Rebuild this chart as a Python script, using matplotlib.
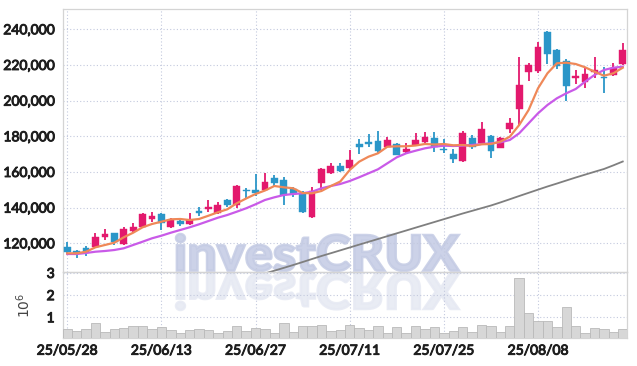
import numpy as np
import matplotlib
matplotlib.use("Agg")
import matplotlib.pyplot as plt
import matplotlib.patheffects as pe
from matplotlib.ticker import FuncFormatter, FixedLocator
from matplotlib.textpath import TextPath
from matplotlib.patches import PathPatch
from matplotlib.font_manager import FontProperties
from matplotlib.transforms import Affine2D

# === DATA ====================================================================
# trading days 25/05/28 .. 25/08/22 (KRX calendar)
dates = [
    "25/05/28", "25/05/29", "25/05/30", "25/06/02", "25/06/04", "25/06/05",
    "25/06/09", "25/06/10", "25/06/11", "25/06/12", "25/06/13", "25/06/16",
    "25/06/17", "25/06/18", "25/06/19", "25/06/20", "25/06/23", "25/06/24",
    "25/06/25", "25/06/26", "25/06/27", "25/06/30", "25/07/01", "25/07/02",
    "25/07/03", "25/07/04", "25/07/07", "25/07/08", "25/07/09", "25/07/10",
    "25/07/11", "25/07/14", "25/07/15", "25/07/16", "25/07/17", "25/07/18",
    "25/07/21", "25/07/22", "25/07/23", "25/07/24", "25/07/25", "25/07/28",
    "25/07/29", "25/07/30", "25/07/31", "25/08/01", "25/08/04", "25/08/05",
    "25/08/06", "25/08/07", "25/08/08", "25/08/11", "25/08/12", "25/08/13",
    "25/08/14", "25/08/18", "25/08/19", "25/08/20", "25/08/21", "25/08/22",
]

open_ = [
    117760, 115850, 117360, 117930, 123700, 125780, 119600, 127070, 129300, 133900,
    136430, 128970, 132620, 130820, 138390, 139230, 136820, 144280, 141200, 149950,
    149950, 150050, 156450, 155490, 150510, 147470, 134840, 153640, 159590, 163340,
    162050, 175680, 176800, 177360, 174170, 175510, 171390, 175290, 176800, 179150,
    172900, 170090, 165880, 179320, 176070, 180160, 173610, 184100, 195140, 216230,
    216790, 238320, 228400, 222230, 212690, 210620, 216060, 213420, 214380, 220380,
]
high = [
    120900, 116240, 118490, 125600, 127850, 125940, 129140, 131210, 137160, 137550,
    137160, 134020, 134350, 137160, 140190, 144280, 143320, 145010, 152690, 150840,
    158920, 159140, 158300, 156900, 151630, 149500, 151570, 162050, 165020, 164860,
    172150, 178310, 181210, 183000, 179880, 176410, 176070, 181990, 182580, 182250,
    178650, 172900, 182980, 180990, 188180, 180720, 179770, 190090, 224300, 220940,
    233050, 239220, 228790, 223180, 217180, 218130, 224300, 219030, 221270, 232490,
]
low = [
    114390, 111590, 113160, 117360, 121680, 119050, 119050, 126500, 128970, 132110,
    127630, 128580, 129530, 130260, 135300, 137720, 136430, 140520, 139620, 144990,
    146420, 149500, 152130, 141480, 145790, 137160, 134020, 149890, 158860, 160150,
    161490, 170090, 174170, 170470, 173840, 169250, 170470, 174390, 176070, 170920,
    170470, 165210, 165760, 172900, 175680, 167840, 173270, 181690, 185780, 211010,
    215330, 220540, 217570, 199970, 209330, 207250, 212520, 204450, 213810, 219980,
]
close = [
    115290, 114560, 115400, 123360, 125210, 120900, 127850, 128970, 136430, 135480,
    131380, 133060, 130820, 133340, 137160, 140520, 141480, 141310, 152130, 149400,
    148440, 154540, 153930, 147080, 147830, 137720, 149600, 161490, 163340, 160700,
    166700, 174170, 175680, 171930, 177920, 169530, 172900, 177920, 179770, 173950,
    172080, 167280, 181690, 174170, 183920, 171930, 178870, 187280, 208770, 219980,
    229910, 225980, 219590, 208380, 213810, 214940, 217180, 212520, 218470, 228400,
]

# moving averages as drawn in the reference
ma_short = [
    114390, 114390, 115290, 117760, 119050, 120340, 123360, 125940, 128970, 130820,
    132110, 133460, 133630, 133060, 133630, 135480, 137380, 139060, 142430, 145120,
    147640, 149600, 152130, 151400, 150840, 148200, 148040, 149330, 152130, 154650,
    161100, 165750, 168560, 170460, 174160, 174390, 174390, 174840, 175680, 175400,
    175680, 174950, 175120, 174560, 175510, 175680, 176970, 179770, 186330, 194740,
    206910, 215320, 220930, 221260, 220530, 218680, 216220, 213970, 215320, 218460,
]
ma_mid = [
    114000, 114000, 114560, 115290, 115680, 116240, 117200, 119050, 120900, 122800,
    124260, 125940, 127460, 128970, 130650, 132500, 134350, 135870, 137720, 139630,
    141870, 144280, 145790, 147080, 147640, 148040, 148930, 150840, 152130, 153250,
    154930, 157010, 159250, 161490, 164860, 168220, 170460, 171920, 173270, 174160,
    174730, 174560, 174730, 175120, 175680, 176070, 176630, 177920, 181680, 187280,
    192890, 197540, 201300, 204100, 206520, 210610, 214370, 217170, 218460, 219020,
]
nan = np.nan
ma_long = [
    nan, nan, nan, nan, nan, nan, nan, nan, nan, nan,
    nan, nan, nan, nan, nan, nan, nan, nan, nan, nan,
    101500, 103070, 104650, 106230, 107830, 109500, 111200, 112880, 114450, 116050,
    117650, 119250, 120830, 122410, 124000, 125600, 127180, 128780, 130360, 131940,
    133530, 135120, 136710, 138200, 139700, 141190, 142900, 144700, 146520, 148300,
    150080, 151850, 153500, 155200, 156890, 158500, 160100, 161660, 163700, 165860,
]

# volume, millions of shares
volume = [
    0.49, 0.37, 0.47, 0.74, 0.34, 0.46, 0.50, 0.59, 0.59, 0.46,
    0.55, 0.43, 0.28, 0.43, 0.47, 0.43, 0.28, 0.40, 0.59, 0.40,
    0.52, 0.46, 0.29, 0.74, 0.34, 0.59, 0.59, 0.64, 0.40, 0.44,
    0.67, 0.50, 0.41, 0.59, 0.28, 0.55, 0.29, 0.59, 0.47, 0.55,
    0.28, 0.37, 0.55, 0.34, 0.64, 0.59, 0.34, 0.59, 2.76, 1.19,
    0.82, 0.82, 0.55, 1.45, 0.59, 0.29, 0.50, 0.46, 0.34, 0.46,
]

price_ticks = [120000, 140000, 160000, 180000, 200000, 220000, 240000]
vol_ticks = [1, 2, 3]
date_tick_idx = [0, 10, 20, 30, 40, 50]

# === STYLE ===================================================================
UP = "#e3196d"
DOWN = "#2b96c8"
GRID = "#c3c9de"
SPINE = "#d4d4d4"
TXT = "#1e1e1e"
plt.rcParams["font.family"] = ["Lato", "DejaVu Sans"]

W, H = 637, 366
fig = plt.figure(figsize=(W / 100, H / 100), dpi=100)
fig.patch.set_facecolor("white")

ax = fig.add_axes([63 / W, (H - 272) / H, 564 / W, 263 / H])
axv = fig.add_axes([63 / W, (H - 337.7) / H, 564 / W, 65.4 / H], sharex=ax)

x = np.arange(len(dates))
o = np.array(open_)
c = np.array(close)
up = c >= o
colors = np.where(up, UP, DOWN)

# ---------------- candles ----------------
ax.vlines(x, low, high, colors=colors, linewidth=1.3, zorder=3)
body_bottom = np.minimum(o, c)
body_height = np.abs(c - o)
ax.bar(x, body_height, bottom=body_bottom, width=0.72, color=colors,
       edgecolor=colors, linewidth=0.3, zorder=4)

# ---------------- moving averages ----------------
ax.plot(x, ma_long, color="#7f7f7f", linewidth=1.3, zorder=5)
ax.plot(x, ma_mid, color="#c95ae8", linewidth=1.6, zorder=5)
ax.plot(x, ma_short, color="#ef8858", linewidth=1.6, zorder=6)

ax.set_xlim(-0.45, 59.45)
ax.set_ylim(103910, 251370)
ax.yaxis.set_major_locator(FixedLocator(price_ticks))
ax.yaxis.set_major_formatter(FuncFormatter(lambda v, p: f"{int(v):,}"))

# ---------------- volume ----------------
axv.bar(x, volume, width=1.0, color="#d7d7d7", edgecolor="#b9b9b9",
        linewidth=0.6, zorder=3)
axv.set_ylim(0.08, 3.03)
axv.yaxis.set_major_locator(FixedLocator(vol_ticks))
axv.set_ylabel(r"$10^6$", fontsize=10, color="#444444", labelpad=10,
               family="DejaVu Sans")

axv.xaxis.set_major_locator(FixedLocator(date_tick_idx))
axv.set_xticklabels([dates[i] for i in date_tick_idx])

for a in (ax, axv):
    a.set_facecolor("none")
    a.grid(True, linestyle=(0, (1, 2)), color=GRID, linewidth=0.8, zorder=0)
    a.set_axisbelow(True)
    for s in a.spines.values():
        s.set_color(SPINE)
        s.set_linewidth(0.9)
    a.tick_params(length=0, labelsize=10, labelcolor=TXT, pad=6)
ax.tick_params(labelbottom=False)
axv.tick_params(axis="x", pad=5)

# ---------------- watermark + reflection ----------------
fp = FontProperties(family="Lato", weight="black")
tp = TextPath((0, 0), "investCRUX", size=10, prop=fp)
ext = tp.get_extents()
bx0, bx1, btop, bbase = 176, 459, 234, 271
sx = (bx1 - bx0) / ext.width
sy = (bbase - btop) / ext.height
to_fig = Affine2D().scale(1 / W, 1 / H) + fig.transFigure

main_tr = Affine2D().translate(-ext.x0, -ext.y0).scale(sx, sy).translate(bx0, H - bbase)
refl_tr = Affine2D().translate(-ext.x0, -ext.y0).scale(sx, -sy).translate(bx0, H - bbase - 2)

fig.add_artist(PathPatch(tp, transform=main_tr + to_fig, facecolor="#c4cbe4",
                         edgecolor="#c4cbe4", linewidth=1.8, alpha=0.85, zorder=-1))
fig.add_artist(PathPatch(tp, transform=refl_tr + to_fig, facecolor="#e6e9f3",
                         edgecolor="#e6e9f3", linewidth=1.8, alpha=0.85, zorder=-1))

# thicken tick labels (the reference uses a heavy face)
fig.canvas.draw()
for a in (ax, axv):
    for lab in a.get_yticklabels() + a.get_xticklabels():
        lab.set_path_effects([pe.withStroke(linewidth=0.7, foreground=TXT)])

fig.savefig("out.png", dpi=100, facecolor="white")
